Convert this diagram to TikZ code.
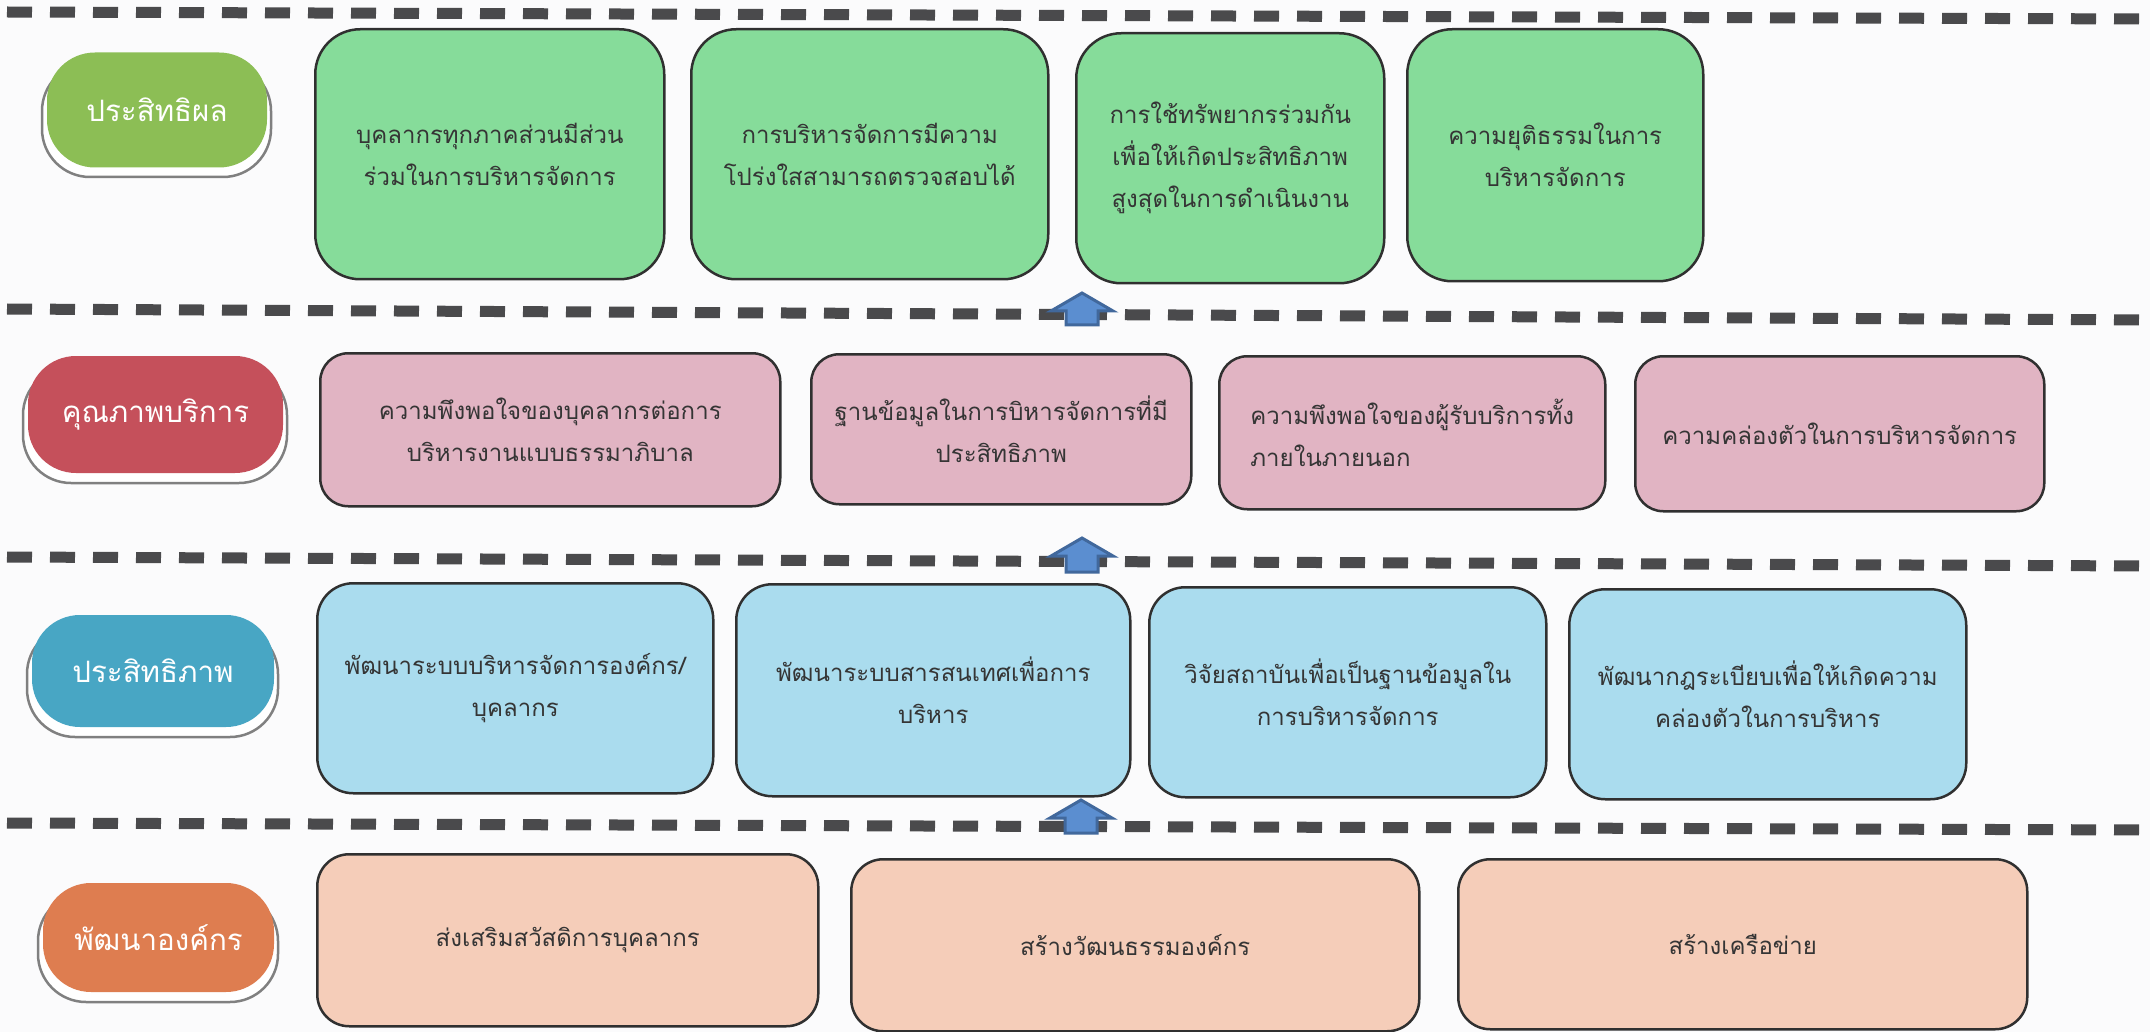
\documentclass[tikz,border=0pt]{standalone}
\usepackage{fontspec}
\newfontfamily\thaifont[Script=Thai]{Loma}
\usetikzlibrary{calc}
\definecolor{pagebg}{HTML}{FBFBFC}
\definecolor{dashgray}{HTML}{4A4A4C}
\definecolor{boxline}{HTML}{303030}
\definecolor{txtgray}{HTML}{353535}
\definecolor{gbox}{HTML}{86DC9A}
\definecolor{pbox}{HTML}{E1B4C3}
\definecolor{bbox}{HTML}{AADCEE}
\definecolor{obox}{HTML}{F5CDB9}
\definecolor{glab}{HTML}{8CBE55}
\definecolor{plab}{HTML}{C5505B}
\definecolor{blab}{HTML}{48A6C4}
\definecolor{olab}{HTML}{DE7D50}
\definecolor{arrfill}{HTML}{5B8ED0}
\definecolor{arrline}{HTML}{41689C}
\begin{document}
\begin{tikzpicture}[x=1pt,y=-1pt,
  box/.style={draw=boxline, line width=2.5pt, align=center, inner sep=0pt,
    anchor=north west, text=txtgray,
    font=\thaifont\fontsize{24}{42}\selectfont},
  gstyle/.style={box, fill=gbox, rounded corners=45pt},
  pstyle/.style={box, fill=pbox, rounded corners=28pt},
  bstyle/.style={box, fill=bbox, rounded corners=36pt},
  ostyle/.style={box, fill=obox, rounded corners=32pt},
  lab/.style={inner sep=0pt, rounded corners=48pt, text=white,
    font=\thaifont\fontsize{29.5}{36}\selectfont},
  labshadow/.style={fill=white, draw=black!50, line width=2.5pt, rounded corners=48pt},
  dashline/.style={draw=dashgray, line width=11pt, dash pattern=on 25pt off 18pt},
  blockarrow/.style={fill=arrfill, draw=arrline, line width=3pt, line join=miter}
]
\useasboundingbox (0,0) rectangle (2150,1032);
\fill[pagebg] (0,0) rectangle (2150,1032);

% dashed separators
\draw[dashline] (7,12) -- (2150,19);
\draw[dashline] (7,309) -- (2150,320);
\draw[dashline] (7,557) -- (2150,566);
\draw[dashline] (7,823) -- (2150,830);

% block arrows
\coordinate (a1) at (1082,293);
\coordinate (a2) at (1082,538);
\coordinate (a3) at (1081,800);
\draw[blockarrow] (a1) -- ++(31,18) -- ++(-15,0) -- ++(0,14) -- ++(-32,0) -- ++(0,-14) -- ++(-15,0) -- cycle;
\draw[blockarrow] (a2) -- ++(31,18) -- ++(-15,0) -- ++(0,16) -- ++(-32,0) -- ++(0,-16) -- ++(-15,0) -- cycle;
\draw[blockarrow] (a3) -- ++(31,18) -- ++(-15,0) -- ++(0,15) -- ++(-32,0) -- ++(0,-15) -- ++(-15,0) -- cycle;

% row labels
\draw[labshadow] (42,63) rectangle (271,177);
\node[lab, fill=glab, minimum width=220pt, minimum height=115pt] (l1) at (157,110) {ประสิทธิผล};
\draw[labshadow] (23,367) rectangle (287,483);
\node[lab, fill=plab, minimum width=255pt, minimum height=117pt] (l2) at (155.5,414.5) {คุณภาพบริการ};
\draw[labshadow] (27,626) rectangle (278,737);
\node[lab, fill=blab, minimum width=242pt, minimum height=112pt] (l3) at (153,671) {ประสิทธิภาพ};
\draw[labshadow] (38,893) rectangle (278,1002);
\node[lab, fill=olab, minimum width=231pt, minimum height=109pt] (l4) at (158.5,937.5) {พัฒนาองค์กร};

% green row
\node[gstyle, minimum width=349pt, minimum height=250pt] (g1) at (314,28) {บุคลากรทุกภาคส่วนมีส่วน\\ร่วมในการบริหารจัดการ};
\node[gstyle, minimum width=357pt, minimum height=250pt] (g2) at (690,28) {การบริหารจัดการมีความ\\โปร่งใสสามารถตรวจสอบได้};
\node[gstyle, minimum width=308pt, minimum height=250pt] (g3) at (1075,32) {การใช้ทรัพยากรร่วมกัน\\เพื่อให้เกิดประสิทธิภาพ\\สูงสุดในการดำเนินงาน};
\node[gstyle, minimum width=296pt, minimum height=252pt] (g4) at (1406,28) {ความยุติธรรมในการ\\บริหารจัดการ};

% pink row
\node[pstyle, minimum width=460pt, minimum height=153pt] (p1) at (319,352) {ความพึงพอใจของบุคลากรต่อการ\\บริหารงานแบบธรรมาภิบาล};
\node[pstyle, minimum width=380pt, minimum height=150pt] (p2) at (810,353) {ฐานข้อมูลในการบิหารจัดการที่มี\\ประสิทธิภาพ};
\node[pstyle, align=left, minimum width=386pt, minimum height=153pt] (p3) at (1218,355) {ความพึงพอใจของผู้รับบริการทั้ง\\ภายในภายนอก};
\node[pstyle, minimum width=409pt, minimum height=155pt] (p4) at (1634,355) {ความคล่องตัวในการบริหารจัดการ};

% blue row
\node[bstyle, minimum width=396pt, minimum height=210pt] (b1) at (316,582) {พัฒนาระบบบริหารจัดการองค์กร/\\บุคลากร};
\node[bstyle, minimum width=394pt, minimum height=212pt] (b2) at (735,583) {พัฒนาระบบสารสนเทศเพื่อการ\\บริหาร};
\node[bstyle, minimum width=397pt, minimum height=210pt] (b3) at (1148,586) {วิจัยสถาบันเพื่อเป็นฐานข้อมูลใน\\การบริหารจัดการ};
\node[bstyle, minimum width=397pt, minimum height=210pt] (b4) at (1568,588) {พัฒนากฎระเบียบเพื่อให้เกิดความ\\คล่องตัวในการบริหาร};

% orange row
\node[ostyle, minimum width=501pt, minimum height=172pt] (o1) at (316,853) {ส่งเสริมสวัสดิการบุคลากร};
\node[ostyle, minimum width=568pt, minimum height=172pt] (o2) at (850,858) {สร้างวัฒนธรรมองค์กร};
\node[ostyle, minimum width=569pt, minimum height=170pt] (o3) at (1457,858) {สร้างเครือข่าย};
\end{tikzpicture}
\end{document}
